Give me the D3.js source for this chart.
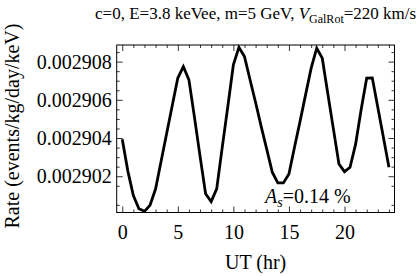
<!DOCTYPE html>
<html>
<head>
<meta charset="utf-8">
<script src="https://cdn.jsdelivr.net/npm/d3@7"></script>
<style>
html,body{margin:0;padding:0;background:#fff;}
svg, svg text{font-family:"Liberation Serif",serif;}
</style>
</head>
<body>
<script>
// ---- data ----
const hours = [0,0.5,1,1.5,2,2.5,3,3.5,4,4.5,5,5.5,6,6.5,7,7.5,8,8.5,9,9.5,10,10.5,11,11.5,12,12.5,13,13.5,14,14.5,15,15.5,16,16.5,17,17.5,18,18.5,19,19.5,20,20.5,21,21.5,22,22.5,23,23.5,24];
const rate = [0.00290394,0.00290228,0.00290099,0.00290030,0.00290016,0.00290048,0.00290134,0.00290280,0.00290425,0.00290570,
              0.00290714,0.00290774,0.00290705,0.00290508,0.00290305,0.00290108,0.00290067,0.00290134,0.00290352,0.00290565,
              0.00290783,0.00290875,0.00290826,0.00290705,0.00290586,0.00290461,0.00290342,0.00290221,0.00290165,0.00290165,
              0.00290212,0.00290352,0.00290487,0.00290627,0.00290766,0.00290870,0.00290818,0.00290632,0.00290448,0.00290264,
              0.00290224,0.00290247,0.00290368,0.00290549,0.00290714,0.00290715,0.00290560,0.00290404,0.00290247];
const xMajorTicks = [0,5,10,15,20];
const xMinorTicks = [1,2,3,4,6,7,8,9,11,12,13,14,16,17,18,19,21,22,23,24];
const yMajorTicks = [0.002902,0.002904,0.002906,0.002908];
const yTickLabels = ["0.002902","0.002904","0.002906","0.002908"];
const yMinorTicks = [0.0029005,0.0029015,0.0029025,0.0029030,0.0029035,0.0029045,0.0029050,0.0029055,0.0029065,0.0029070,0.0029075,0.0029085];
const titleMain = "c=0, E=3.8 keVee, m=5 GeV, ";
const titleVar = "V";
const titleSub = "GalRot";
const titleEnd = "=220 km/s";
const xTitle = "UT (hr)";
const yTitle = "Rate (events/kg/day/keV)";
const annotVar = "A", annotSub = "s", annotText = "=0.14 %";

// ---- layout ----
const W = 420, H = 276;
const L = 116.7, R = 394.5, T = 45, B = 212.5;
const FONT = "Liberation Serif";

const svg = d3.select("body").append("svg").attr("width", W).attr("height", H)
  .attr("font-family", FONT);
svg.append("rect").attr("width", W).attr("height", H).attr("fill", "#fff");

const x = d3.scaleLinear().domain([-0.5, 24.5]).range([L, R]);
const y = d3.scaleLinear().domain([0.0029001, 0.00290887]).range([B, T]);

const fmtY = d => yTickLabels[yMajorTicks.indexOf(d)];

function styleAxis(g, fs) {
  g.attr("font-family", FONT).attr("font-size", fs);
  g.select(".domain").remove();
  g.selectAll(".tick line").attr("stroke", "#000").attr("stroke-width", 0.8);
  g.selectAll("text").attr("fill", "#000").attr("font-family", FONT).attr("font-size", fs)
    .style("font-family", FONT).style("font-size", fs + "px");
}

// bottom
svg.append("g").attr("transform", `translate(0,${B})`)
  .call(d3.axisBottom(x).tickValues(xMajorTicks).tickSize(-6).tickPadding(12).tickFormat(d3.format("d")))
  .call(g => styleAxis(g, 20));
svg.append("g").attr("transform", `translate(0,${B})`)
  .call(d3.axisBottom(x).tickValues(xMinorTicks).tickSize(-3).tickFormat(""))
  .call(g => styleAxis(g, 20));
// top
svg.append("g").attr("transform", `translate(0,${T})`)
  .call(d3.axisTop(x).tickValues(xMajorTicks).tickSize(-6).tickFormat(""))
  .call(g => styleAxis(g, 20));
svg.append("g").attr("transform", `translate(0,${T})`)
  .call(d3.axisTop(x).tickValues(xMinorTicks).tickSize(-3).tickFormat(""))
  .call(g => styleAxis(g, 20));
// left
svg.append("g").attr("transform", `translate(${L},0)`)
  .call(d3.axisLeft(y).tickValues(yMajorTicks).tickSize(-6).tickPadding(5).tickFormat(fmtY))
  .call(g => styleAxis(g, 20));
svg.append("g").attr("transform", `translate(${L},0)`)
  .call(d3.axisLeft(y).tickValues(yMinorTicks).tickSize(-3).tickFormat(""))
  .call(g => styleAxis(g, 20));
// right
svg.append("g").attr("transform", `translate(${R},0)`)
  .call(d3.axisRight(y).tickValues(yMajorTicks).tickSize(-6).tickFormat(""))
  .call(g => styleAxis(g, 20));
svg.append("g").attr("transform", `translate(${R},0)`)
  .call(d3.axisRight(y).tickValues(yMinorTicks).tickSize(-3).tickFormat(""))
  .call(g => styleAxis(g, 20));

// frame
svg.append("rect").attr("x", L).attr("y", T).attr("width", R - L).attr("height", B - T)
  .attr("fill", "none").attr("stroke", "#000").attr("stroke-width", 1);

// curve
const data = hours.map((h, i) => ({h, v: rate[i]}));
svg.append("path").datum(data)
  .attr("fill", "none").attr("stroke", "#000").attr("stroke-width", 2.8)
  .attr("stroke-linejoin", "miter")
  .attr("d", d3.line().x(d => x(d.h)).y(d => y(d.v)));

// title
const t = svg.append("text").attr("x", (L + R) / 2).attr("y", 19).attr("text-anchor", "middle")
  .attr("font-family", FONT).style("font-size", "17px").attr("fill", "#000");
t.append("tspan").text(titleMain);
t.append("tspan").style("font-style", "italic").text(titleVar);
t.append("tspan").attr("dy", 4).style("font-size", "12px").text(titleSub);
t.append("tspan").attr("dy", -4).text(titleEnd);

// x title
svg.append("text").attr("x", (L + R) / 2).attr("y", 269).attr("text-anchor", "middle")
  .attr("font-family", FONT).style("font-size", "20px").attr("fill", "#000").text(xTitle);

// y title
svg.append("text").attr("transform", `translate(18.5,126) rotate(-90)`).attr("text-anchor", "middle")
  .attr("font-family", FONT).style("font-size", "20px").attr("fill", "#000").text(yTitle);

// annotation
const a = svg.append("text").attr("x", 265).attr("y", 203).attr("font-family", FONT)
  .style("font-size", "20px").attr("fill", "#000");
a.append("tspan").style("font-style", "italic").text(annotVar);
a.append("tspan").attr("dy", 4).style("font-size", "14px").style("font-style", "italic").text(annotSub);
a.append("tspan").attr("dy", -4).text(annotText);
</script>
</body>
</html>
